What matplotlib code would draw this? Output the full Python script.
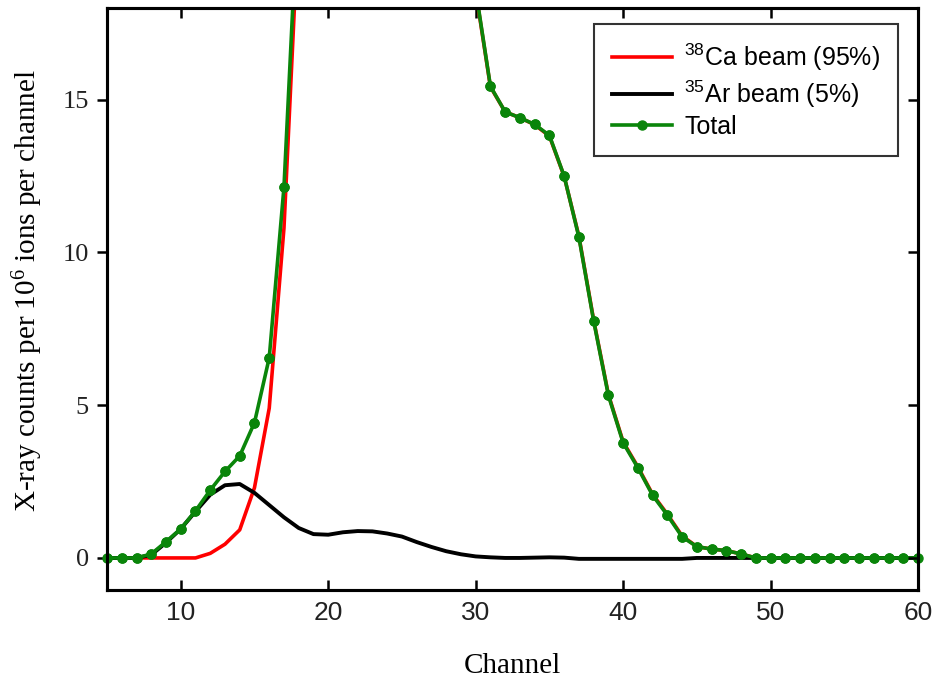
import matplotlib
matplotlib.use('Agg')
import matplotlib.pyplot as plt

# channel numbers and counts per 10^6 ions (values above 18 are off the plot, estimated)
channel = list(range(5, 61))
ca_beam = [0, 0, 0, 0, 0, 0, 0, 0.15, 0.45, 0.92, 2.3, 4.9, 10.8, 21.0,
           37.2, 59.2, 84.2, 104.1, 117.1, 121.2, 114.3, 97.5, 74.6, 49.8, 29.9,
           18.55, 15.42, 14.6, 14.41, 14.18, 13.81, 12.49, 10.53, 7.79, 5.35,
           3.8, 2.98, 2.08, 1.43, 0.72, 0.37, 0.29, 0.24, 0.13,
           0, 0, 0, 0, 0, 0, 0, 0, 0, 0, 0, 0]
ar_beam = [0, 0, 0, 0.1, 0.5, 0.95, 1.52, 2.07, 2.38, 2.42, 2.13, 1.73, 1.33, 0.98,
           0.78, 0.76, 0.84, 0.88, 0.87, 0.80, 0.70, 0.52, 0.36, 0.22, 0.12,
           0.05, 0.02, 0, 0, 0.01, 0.02, 0.01, -0.03, -0.03, -0.03,
           -0.03, -0.03, -0.03, -0.03, -0.03, 0, 0, 0, 0,
           0, 0, 0, 0, 0, 0, 0, 0, 0, 0, 0, 0]
total = [0, 0, 0, 0.13, 0.53, 0.95, 1.54, 2.22, 2.83, 3.34, 4.43, 6.55, 12.14, 22.0,
         38.0, 60.0, 85.0, 105.0, 118.0, 122.0, 115.0, 98.0, 75.0, 50.0, 30.0,
         18.6, 15.44, 14.6, 14.41, 14.19, 13.83, 12.5, 10.5, 7.76, 5.32,
         3.77, 2.95, 2.05, 1.40, 0.69, 0.37, 0.29, 0.24, 0.13,
         0, 0, 0, 0, 0, 0, 0, 0, 0, 0, 0, 0]

serif = ['Liberation Serif', 'DejaVu Serif']
sans = ['Liberation Sans', 'DejaVu Sans']
green = '#0a850a'
ymax = 18

fig = plt.figure(figsize=(9.33, 6.81), dpi=100)
ax = fig.add_axes([0.1147, 0.1336, 0.8693, 0.8546])

ax.plot(channel, ca_beam, color='#ff0000', lw=2.6,
        label=r'$\mathregular{^{38}}$Ca beam (95%)')
ax.plot(channel, ar_beam, color='black', lw=2.8,
        label=r'$\mathregular{^{35}}$Ar beam (5%)')
ax.plot(channel, total, color=green, lw=2.6, marker='o', ms=6.5,
        label='Total')
# dots on the frame edges are drawn whole, like the original
inside = [(c, t) for c, t in zip(channel, total) if t <= ymax]
ax.plot([c for c, _ in inside], [t for _, t in inside], ls='none',
        marker='o', ms=6.5, color=green, clip_on=False, zorder=5)

ax.set_xlim(5, 60)
ax.set_ylim(-1.05, ymax)
ax.set_xticks([10, 20, 30, 40, 50, 60])
ax.set_yticks([0, 5, 10, 15])

ax.tick_params(axis='x', direction='in', top=True, length=7, width=1.8, pad=8)
ax.tick_params(axis='y', direction='out', length=7, width=1.8, pad=6)
for lab in ax.get_xticklabels():
    lab.set_family(sans)
    lab.set_fontsize(19)
    lab.set_color('#222222')
for lab in ax.get_yticklabels():
    lab.set_family(serif)
    lab.set_fontsize(19)
    lab.set_color('#222222')

# right side ticks point inward
ax2 = ax.twinx()
ax2.set_ylim(ax.get_ylim())
ax2.set_yticks([0, 5, 10, 15])
ax2.tick_params(axis='y', direction='in', length=7, width=1.8, labelright=False)

for a in (ax, ax2):
    for s in a.spines.values():
        s.set_linewidth(2.2)

ax.set_xlabel('Channel', family=serif, fontsize=21, labelpad=20)
ax.set_ylabel(r'X-ray counts per 10$\mathregular{^6}$ ions per channel',
              family=serif, fontsize=21)
ax.yaxis.set_label_coords(-0.076, 0.515)

leg = ax.legend(loc='upper right', bbox_to_anchor=(0.975, 0.972),
                prop={'family': sans, 'size': 18}, fancybox=False,
                framealpha=1, edgecolor='#333333', handlelength=2.4,
                borderpad=0.7, labelspacing=0.2, handletextpad=0.5,
                borderaxespad=0)
leg.get_frame().set_linewidth(1.5)

fig.savefig('out.png', dpi=100)
